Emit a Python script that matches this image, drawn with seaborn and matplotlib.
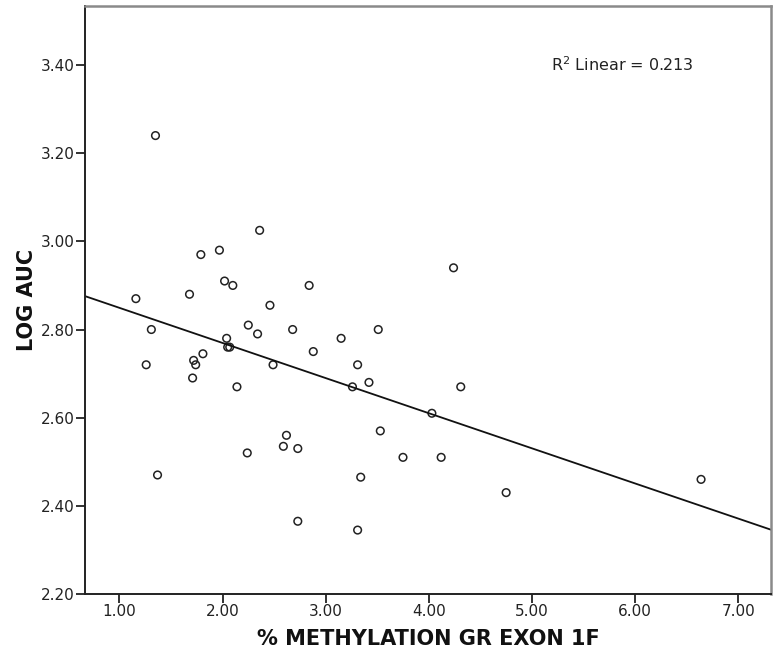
import numpy as np
import pandas as pd
import seaborn as sns
import matplotlib
matplotlib.use('Agg')
import matplotlib.pyplot as plt
from matplotlib.ticker import FormatStrFormatter

# values
methylation = [1.35, 2.36, 1.79, 1.97, 2.02, 2.10, 1.68, 1.16, 2.84, 2.46,
               1.31, 2.25, 2.34, 2.68, 2.04, 2.05, 2.07, 2.88, 1.81, 1.72,
               1.74, 1.26, 2.49, 1.71, 2.14, 2.62, 2.59, 2.73, 2.24, 1.37,
               4.24, 3.51, 3.15, 3.31, 3.42, 3.26, 4.31, 4.03, 3.53, 3.75,
               4.12, 3.34, 4.75, 2.73, 3.31, 6.64]
log_auc = [3.24, 3.025, 2.97, 2.98, 2.91, 2.90, 2.88, 2.87, 2.90, 2.855,
           2.80, 2.81, 2.79, 2.80, 2.78, 2.76, 2.76, 2.75, 2.745, 2.73,
           2.72, 2.72, 2.72, 2.69, 2.67, 2.56, 2.535, 2.53, 2.52, 2.47,
           2.94, 2.80, 2.78, 2.72, 2.68, 2.67, 2.67, 2.61, 2.57, 2.51,
           2.51, 2.465, 2.43, 2.365, 2.345, 2.46]
x_ticks = [1, 2, 3, 4, 5, 6, 7]
y_ticks = [2.2, 2.4, 2.6, 2.8, 3.0, 3.2, 3.4]
r2_label = 'R$^{2}$ Linear = 0.213'

data = pd.DataFrame({'meth': methylation, 'auc': log_auc})

sns.set_style('white')
plt.rcParams['font.family'] = ['DejaVu Sans']
plt.rcParams['mathtext.default'] = 'regular'

fig = plt.figure(figsize=(7.73, 6.57), dpi=100)
ax = fig.add_axes([0.110, 0.0959, 0.8874, 0.895])
ax.set_xlim(0.667, 7.318)
ax.set_ylim(2.20, 3.534)

sns.regplot(data=data, x='meth', y='auc', ax=ax, ci=None, truncate=False,
            scatter_kws=dict(facecolors='none', edgecolors='#222222', s=30,
                             linewidths=1.1, alpha=1),
            line_kws=dict(color='#111111', lw=1.3))

ax.set_xticks(x_ticks)
ax.set_yticks(y_ticks)
ax.xaxis.set_major_formatter(FormatStrFormatter('%.2f'))
ax.yaxis.set_major_formatter(FormatStrFormatter('%.2f'))
ax.tick_params(axis='both', direction='out', length=6.5, width=1.3, color='#222222',
               labelsize=11, labelcolor='#222222', pad=1, left=True, bottom=True)

for side in ['left', 'bottom']:
    ax.spines[side].set_color('#222222')
    ax.spines[side].set_linewidth(1.4)
for side in ['top', 'right']:
    ax.spines[side].set_color('#8a8a8a')
    ax.spines[side].set_linewidth(1.8)

ax.set_xlabel('% METHYLATION GR EXON 1F', fontsize=15, fontweight='bold',
              labelpad=7, color='#111111')
ax.set_ylabel('LOG AUC', fontsize=15, fontweight='bold', labelpad=3,
              color='#111111')

ax.text(0.68, 0.90, r2_label, transform=ax.transAxes, fontsize=11.5,
        ha='left', va='center', color='#222222')

fig.savefig('out.png', dpi=100)
